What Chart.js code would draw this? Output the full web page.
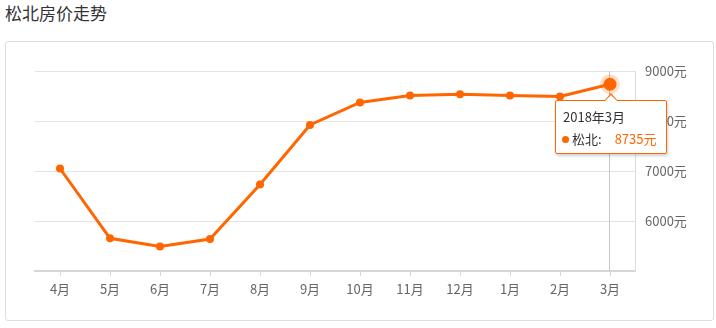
<!DOCTYPE html>
<html>
<head>
<meta charset="utf-8">
<script src="https://cdn.jsdelivr.net/npm/chart.js@4.4.1/dist/chart.umd.min.js"></script>
<style>
  html, body { margin: 0; padding: 0; background: #fff; }
  body { width: 716px; height: 328px; position: relative; overflow: hidden;
         font-family: "Noto Sans CJK SC", "Noto Sans", sans-serif; }
  .title { position: absolute; left: 5px; top: 1px; font-size: 17px; color: #333; line-height: 24px; }
  .card { position: absolute; left: 5px; top: 41px; width: 709px; height: 280px;
          border: 1px solid #ddd; border-radius: 3px; box-sizing: border-box; }
  .wrap { position: absolute; left: 0; top: 0; width: 716px; height: 328px; }
  .tip { position: absolute; width: 112px; height: 54px; background: #fff;
         border: 1px solid #f60; border-radius: 2px; box-sizing: border-box;
         box-shadow: 1px 2px 3px rgba(0,0,0,0.18); font-size: 13px; color: #333; pointer-events: none; }
  .tip:before, .tip:after { content: ""; position: absolute; left: 50%; width: 0; height: 0;
         border-left: 7px solid transparent; border-right: 7px solid transparent; margin-left: -7px; }
  .tip:before { top: -8px; border-bottom: 8px solid #f60; }
  .tip:after { top: -6.5px; border-bottom: 7px solid #fff; }
  .tip .tt { position: absolute; left: 7px; top: 6px; line-height: 20px; }
  .tip .row { position: absolute; left: 6px; top: 28px; line-height: 20px; white-space: nowrap; }
  .tip .dot { display: inline-block; width: 7px; height: 7px; border-radius: 50%; background: #f60;
              margin-right: 3px; vertical-align: 1px; }
  .tip .val { color: #f60; margin-left: 13px; }
</style>
</head>
<body>
<div class="title">松北房价走势</div>
<div class="card"></div>
<div class="wrap"><canvas id="priceChart" width="716" height="328"></canvas></div>
<script>
// Chart data
const months = ['4月', '5月', '6月', '7月', '8月', '9月', '10月', '11月', '12月', '1月', '2月', '3月'];
const periods = ['2017年4月', '2017年5月', '2017年6月', '2017年7月', '2017年8月', '2017年9月',
                 '2017年10月', '2017年11月', '2017年12月', '2018年1月', '2018年2月', '2018年3月'];
const prices = [7050, 5655, 5490, 5640, 6730, 7920, 8370, 8510, 8535, 8510, 8490, 8735];
const yTicks = [5000, 6000, 7000, 8000, 9000];
const seriesName = '松北';
const activeIndex = 11;

const orange = '#f60';
const gridColor = '#e3e3e3';
const labelColor = '#666';
const fontFamily = '"Noto Sans CJK SC", "Noto Sans", sans-serif';

// Vertical guide line at hovered point
const crosshair = {
  id: 'crosshair',
  beforeDatasetsDraw(chart) {
    const act = chart.tooltip.getActiveElements();
    if (!act.length) return;
    const x = Math.round(act[0].element.x) - 0.5;
    const { top, bottom } = chart.chartArea;
    const ctx = chart.ctx;
    ctx.save();
    ctx.strokeStyle = '#c8c8c8';
    ctx.lineWidth = 1;
    ctx.beginPath();
    ctx.moveTo(x, top);
    ctx.lineTo(x, bottom);
    ctx.stroke();
    ctx.restore();
  }
};

function externalTooltip(context) {
  const { chart, tooltip } = context;
  let el = document.querySelector('.tip');
  if (!el) {
    el = document.createElement('div');
    el.className = 'tip';
    document.body.appendChild(el);
  }
  if (tooltip.opacity === 0 || !tooltip.dataPoints || !tooltip.dataPoints.length) {
    el.style.display = 'none';
    return;
  }
  const dp = tooltip.dataPoints[0];
  el.style.display = 'block';
  el.innerHTML = '<div class="tt">' + periods[dp.dataIndex] + '</div>' +
    '<div class="row"><span class="dot"></span>' + seriesName + ':<span class="val">' + dp.raw + '元</span></div>';
  const rect = chart.canvas.getBoundingClientRect();
  el.style.left = (rect.left + dp.element.x - 55) + 'px';
  el.style.top = (rect.top + dp.element.y + 16) + 'px';
}

const ctx = document.getElementById('priceChart');
const priceChart = new Chart(ctx, {
  type: 'line',
  data: {
    labels: months,
    datasets: [{
      label: seriesName,
      data: prices,
      borderColor: orange,
      backgroundColor: orange,
      borderWidth: 3,
      pointRadius: 4,
      pointBackgroundColor: orange,
      pointBorderWidth: 0,
      pointHoverRadius: 6.5,
      pointHoverBackgroundColor: orange,
      pointHoverBorderColor: 'rgba(255,102,0,0.22)',
      pointHoverBorderWidth: 7,
      tension: 0,
    }]
  },
  options: {
    responsive: false,
    animation: false,
    events: [],
    layout: { padding: { left: 35, top: 71, right: 0, bottom: 0 } },
    plugins: {
      legend: { display: false },
      tooltip: { enabled: false, external: externalTooltip }
    },
    scales: {
      x: {
        offset: true,
        grid: { display: true, drawOnChartArea: false, offset: false, tickLength: 5, color: '#d6d6d6' },
        border: { display: true, color: '#d6d6d6', width: 2 },
        ticks: { color: labelColor, padding: 5, font: { family: fontFamily, size: 13 }, maxRotation: 0, autoSkip: false },
        afterFit: (s) => { s.height = 57; s.paddingLeft = 0; s.paddingRight = 0; }
      },
      y: {
        position: 'right',
        min: yTicks[0],
        max: yTicks[yTicks.length - 1],
        afterBuildTicks: (s) => { s.ticks = yTicks.map(v => ({ value: v })); },
        grid: { color: gridColor, drawTicks: false },
        border: { display: true, color: '#dcdcdc' },
        ticks: {
          color: labelColor,
          padding: 10,
          font: { family: fontFamily, size: 13 },
          callback: (v) => v === yTicks[0] ? '' : v + '元'
        },
        afterFit: (s) => { s.width = 81; s.paddingTop = 0; s.paddingBottom = 0; }
      }
    }
  },
  plugins: [crosshair]
});

const active = [{ datasetIndex: 0, index: activeIndex }];
const pt = priceChart.getDatasetMeta(0).data[activeIndex];
priceChart.setActiveElements(active);
priceChart.tooltip.setActiveElements(active, { x: pt.x, y: pt.y });
priceChart.update();
</script>
</body>
</html>
